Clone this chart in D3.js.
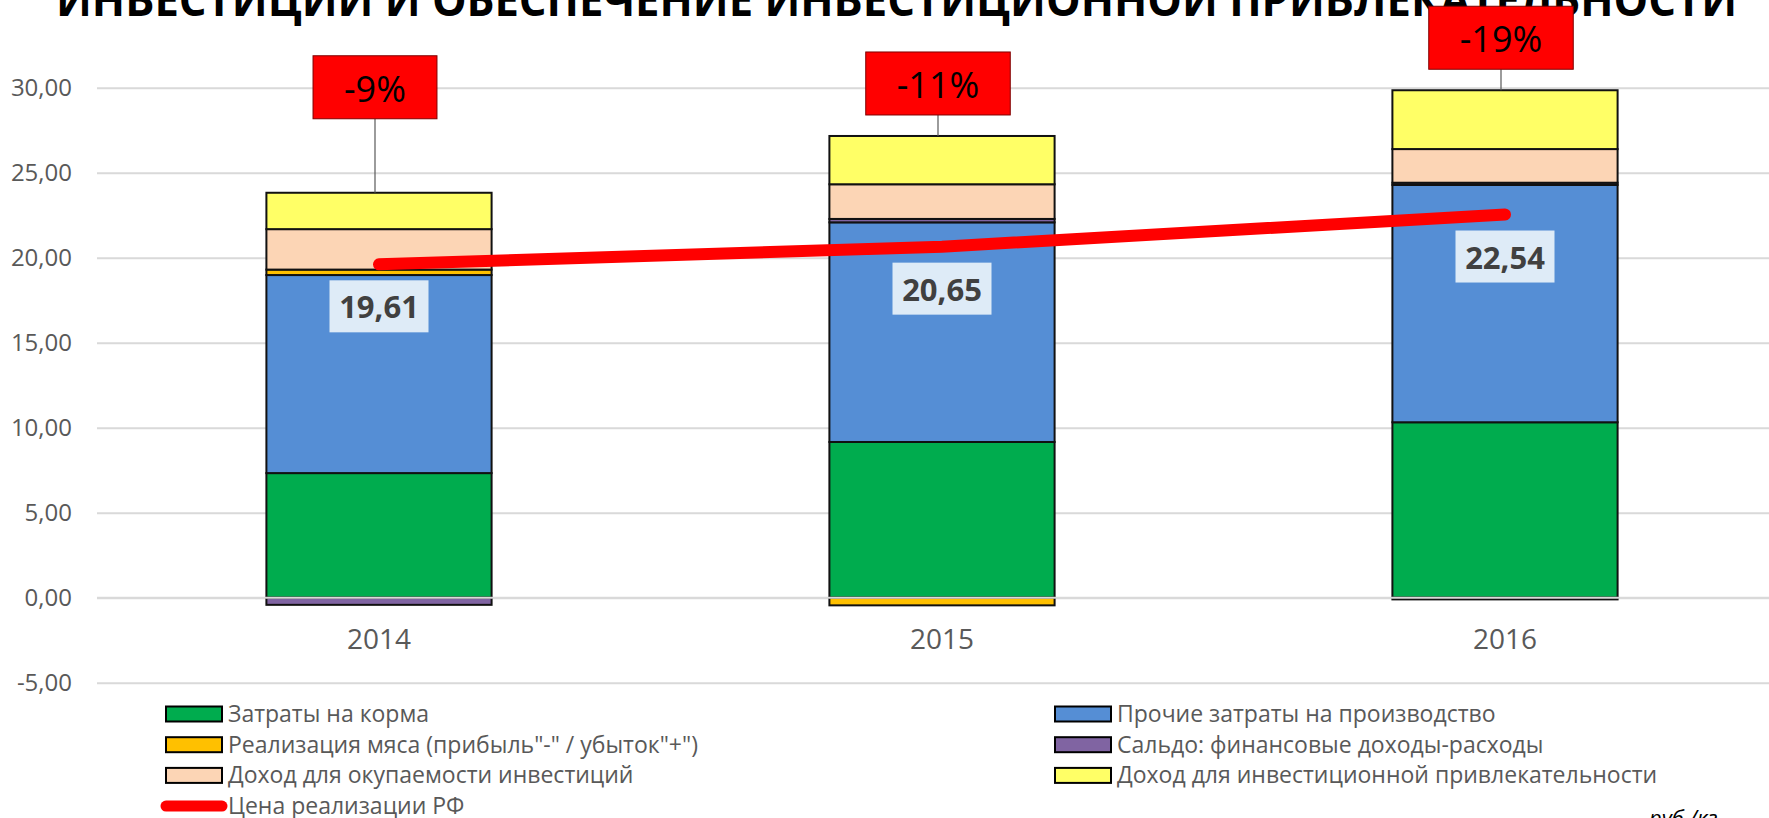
<!DOCTYPE html>
<html>
<head>
<meta charset="utf-8">
<script src="https://cdn.jsdelivr.net/npm/d3@7"></script>
<style>
  body { margin: 0; background: #fff; }
  svg { display: block; font-family: "Open Sans", "Noto Sans", sans-serif; }
</style>
</head>
<body>
<div id="chart"></div>
<script>
var width = 1769;
var height = 818;

// data
var years = ["2014", "2015", "2016"];
var keys = ["feed", "other", "meat", "saldo", "payback", "attract"];
var labels = ["Затраты на корма", "Прочие затраты на производство",
              "Реализация мяса (прибыль\"-\" / убыток\"+\")", "Сальдо: финансовые доходы-расходы",
              "Доход для окупаемости инвестиций", "Доход для инвестиционной привлекательности"];
var feed    = [7.33, 9.16, 10.32];
var other   = [11.65, 12.92, 13.96];
var meat    = [0.32, -0.45, -0.10];
var saldo   = [-0.42, 0.20, 0.13];
var payback = [2.38, 2.04, 1.98];
var attract = [2.14, 2.84, 3.46];
var price   = [19.61, 20.65, 22.54];
var priceLabel = ["19,61", "20,65", "22,54"];
var gap = ["-9%", "-11%", "-19%"];
var yTicks = [-5, 0, 5, 10, 15, 20, 25, 30];

var colors = ["#00ac4e", "#558ed5", "#ffc000", "#8064a2", "#fcd5b5", "#ffff66"];

// how far the red callouts sit above their bar, px
var calloutLift = [137, 84, 84];

var rows = years.map(function(y, i) {
  return {year: y, feed: feed[i], other: other[i], meat: meat[i], saldo: saldo[i],
          payback: payback[i], attract: attract[i]};
});

var svg = d3.select("#chart").append("svg")
    .attr("width", width)
    .attr("height", height);

var x = d3.scaleBand()
    .domain(years)
    .range([97.5, 1786.5])
    .paddingInner(0.6)
    .paddingOuter(0.3);

var y = d3.scaleLinear()
    .domain([-5, 30])
    .range([682.7, 87.7]);

var color = d3.scaleOrdinal().domain(keys).range(colors);

// title (cropped at top like the original)
svg.append("text")
    .attr("x", 56)
    .attr("y", 16)
    .attr("textLength", 1681)
    .attr("lengthAdjust", "spacingAndGlyphs")
    .style("font-size", "46px")
    .style("font-weight", "bold")
    .attr("fill", "#000")
    .text("ИНВЕСТИЦИИ И ОБЕСПЕЧЕНИЕ ИНВЕСТИЦИОННОЙ ПРИВЛЕКАТЕЛЬНОСТИ");

// gridlines + y labels
var yAxis = svg.append("g")
    .attr("class", "axis axis--y")
    .attr("transform", "translate(97,0)")
    .call(d3.axisLeft(y).tickValues(yTicks)
      .tickSize(-(width - 97))
      .tickPadding(25)
      .tickFormat(function(d) { return d.toFixed(2).replace(".", ","); }));
yAxis.select(".domain").remove();
yAxis.selectAll("line").attr("stroke", "#d9d9d9").attr("stroke-width", 2);
yAxis.selectAll("text")
    .attr("fill", "#595959")
    .style("font-size", "24px")
    .style("font-family", "'Open Sans', sans-serif");

// stacked bars
var series = d3.stack().keys(keys).offset(d3.stackOffsetDiverging)(rows);

svg.append("g").selectAll("g")
  .data(series)
  .enter().append("g")
    .attr("fill", function(d) { return color(d.key); })
  .selectAll("rect")
  .data(function(d) { return d; })
  .enter().append("rect")
    .attr("x", function(d) { return x(d.data.year); })
    .attr("y", function(d) { return y(Math.max(d[0], d[1])); })
    .attr("width", x.bandwidth())
    .attr("height", function(d) { return Math.abs(y(d[0]) - y(d[1])); })
    .attr("stroke", "#111")
    .attr("stroke-width", 2);

// horizontal axis line at zero, on top of the bars
svg.append("line")
    .attr("x1", 97).attr("x2", width)
    .attr("y1", y(0)).attr("y2", y(0))
    .attr("stroke", "#d9d9d9")
    .attr("stroke-width", 2);

// category labels
svg.append("g").selectAll("text")
  .data(years)
  .enter().append("text")
    .attr("x", function(d) { return x(d) + x.bandwidth() / 2; })
    .attr("y", 649)
    .attr("text-anchor", "middle")
    .attr("fill", "#595959")
    .style("font-size", "28px")
    .text(function(d) { return d; });

// price line
var line = d3.line()
    .x(function(d, i) { return x(years[i]) + x.bandwidth() / 2; })
    .y(function(d) { return y(d); });

svg.append("path")
    .datum(price)
    .attr("d", line)
    .attr("fill", "none")
    .attr("stroke", "#ff0000")
    .attr("stroke-width", 12)
    .attr("stroke-linecap", "round");

// price labels
var pl = svg.append("g").selectAll("g")
  .data(price)
  .enter().append("g")
    .attr("transform", function(d, i) {
      return "translate(" + (x(years[i]) + x.bandwidth() / 2) + "," + (y(d) + 16) + ")";
    });
pl.append("rect")
    .attr("x", -49.5).attr("y", 0)
    .attr("width", 99).attr("height", 52)
    .attr("fill", "#deebf7");
pl.append("text")
    .attr("y", 38)
    .attr("text-anchor", "middle")
    .attr("fill", "#404040")
    .style("font-size", "31px")
    .style("font-weight", "bold")
    .text(function(d, i) { return priceLabel[i]; });

// red callouts
var tops = rows.map(function(r) {
  return keys.reduce(function(s, k) { return s + Math.max(0, r[k]); }, 0);
});

var co = svg.append("g").selectAll("g")
  .data(gap)
  .enter().append("g")
    .attr("transform", function(d, i) {
      return "translate(" + (x(years[i]) + x.bandwidth() / 2 - 4) + "," + (y(tops[i]) - calloutLift[i]) + ")";
    });
co.append("line")
    .attr("x1", 0).attr("x2", 0)
    .attr("y1", 63)
    .attr("y2", function(d, i) { return calloutLift[i]; })
    .attr("stroke", "#595959")
    .attr("stroke-width", 1.2);
co.append("rect")
    .attr("y", 0)
    .attr("height", 63)
    .attr("fill", "#ff0000")
    .attr("stroke", "#7f0000")
    .attr("stroke-width", 1);
co.append("text")
    .attr("y", 46)
    .attr("text-anchor", "middle")
    .attr("fill", "#000")
    .style("font-size", "36px")
    .text(function(d) { return d; });
co.each(function() {
  var g = d3.select(this);
  var w = g.select("text").node().getComputedTextLength() + 62;
  g.select("rect").attr("x", -w / 2).attr("width", w);
});

// legend
var legendItems = keys.map(function(k, i) {
  return {key: k, label: labels[i], col: i % 2, row: Math.floor(i / 2)};
});
var legend = svg.append("g").selectAll("g")
  .data(legendItems)
  .enter().append("g")
    .attr("transform", function(d) {
      return "translate(" + (d.col ? 1055 : 166) + "," + (714 + d.row * 30.7) + ")";
    });
legend.append("rect")
    .attr("x", 0).attr("y", -7.5)
    .attr("width", 56).attr("height", 15)
    .attr("fill", function(d) { return color(d.key); })
    .attr("stroke", "#000")
    .attr("stroke-width", 2);
legend.append("text")
    .attr("x", 62)
    .attr("y", 8)
    .attr("fill", "#595959")
    .style("font-size", "23px")
    .text(function(d) { return d.label; });

var lineLegend = svg.append("g").attr("transform", "translate(166," + (714 + 3 * 30.7) + ")");
lineLegend.append("line")
    .attr("x1", 0).attr("x2", 56)
    .attr("stroke", "#ff0000")
    .attr("stroke-width", 11)
    .attr("stroke-linecap", "round");
lineLegend.append("text")
    .attr("x", 62)
    .attr("y", 8)
    .attr("fill", "#595959")
    .style("font-size", "23px")
    .text("Цена реализации РФ");

// unit note, cut off at the bottom edge
svg.append("text")
    .attr("x", 1649)
    .attr("y", 826)
    .style("font-size", "22px")
    .style("font-style", "italic")
    .attr("fill", "#000")
    .text("руб./кг");
</script>
</body>
</html>
